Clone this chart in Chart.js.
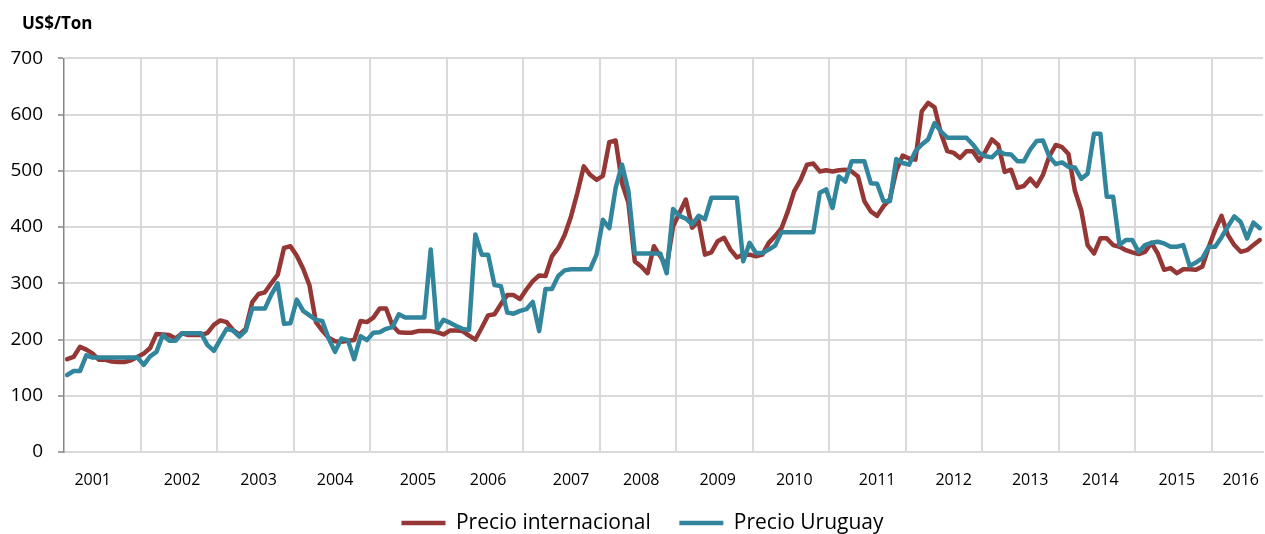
<!DOCTYPE html>
<html>
<head>
<meta charset="utf-8">
<title>Precio internacional vs Precio Uruguay</title>
<script src="https://cdn.jsdelivr.net/npm/chart.js@4.4.1/dist/chart.umd.min.js"></script>
<style>
  html, body { margin: 0; padding: 0; background: #fff; }
  #wrap { width: 1265px; height: 534px; }
</style>
</head>
<body>
<div id="wrap"><canvas id="chart" width="1265" height="534"></canvas></div>
<script>
// monthly prices, US$/Ton, Jan 2001 - Aug 2016
const precioInternacional = [
  165, 169, 187, 182, 175, 164, 164, 161, 160, 160, 163, 169, // 2001
  175, 185, 210, 209, 208, 202, 211, 208, 208, 208, 212, 226, // 2002
  234, 231, 217, 209, 219, 266, 281, 284, 300, 315, 363, 366, // 2003
  349, 326, 296, 231, 216, 203, 197, 196, 198, 199, 233, 231, // 2004
  239, 255, 255, 225, 213, 212, 212, 215, 215, 215, 213, 209, // 2005
  216, 216, 215, 207, 200, 221, 243, 245, 263, 279, 279, 272, // 2006
  289, 304, 314, 313, 348, 363, 386, 419, 461, 508, 493, 484, // 2007
  491, 551, 554, 478, 443, 339, 330, 318, 366, 348, 330, 401, // 2008
  425, 449, 399, 411, 351, 355, 375, 381, 360, 346, 351, 351, // 2009
  348, 351, 372, 384, 398, 428, 464, 484, 511, 513, 499, 501, // 2010
  499, 501, 502, 499, 490, 446, 428, 420, 437, 450, 500, 527, // 2011
  522, 520, 606, 621, 613, 567, 535, 532, 523, 535, 535, 518, // 2012
  535, 556, 546, 498, 502, 470, 473, 486, 473, 493, 526, 546, // 2013
  542, 530, 465, 430, 368, 353, 380, 380, 368, 365, 359, 355, // 2014
  352, 356, 372, 353, 324, 327, 318, 325, 325, 324, 330, 365, // 2015
  395, 420, 386, 368, 356, 359, 368, 377                      // 2016
];

const precioUruguay = [
  137, 144, 144, 172, 168, 168, 168, 168, 168, 168, 168, 168, // 2001
  155, 170, 178, 208, 198, 198, 211, 211, 211, 211, 190, 180, // 2002
  200, 219, 216, 205, 216, 255, 255, 255, 280, 300, 228, 229, // 2003
  271, 251, 243, 235, 233, 202, 178, 202, 199, 165, 206, 199, // 2004
  212, 213, 219, 222, 245, 239, 239, 239, 239, 360, 218, 235, // 2005
  230, 224, 219, 217, 387, 351, 351, 297, 295, 248, 246, 251, // 2006
  254, 267, 215, 290, 290, 313, 323, 325, 325, 325, 325, 351, // 2007
  413, 398, 470, 511, 464, 353, 353, 353, 353, 353, 318, 432, // 2008
  420, 415, 405, 420, 414, 452, 452, 452, 452, 452, 339, 372, // 2009
  354, 354, 360, 367, 391, 391, 391, 391, 391, 391, 461, 467, // 2010
  434, 490, 481, 517, 517, 517, 478, 477, 446, 446, 521, 514, // 2011
  511, 535, 547, 556, 585, 570, 559, 559, 559, 559, 547, 532, // 2012
  526, 524, 535, 530, 529, 517, 517, 538, 553, 554, 525, 512, // 2013
  515, 507, 506, 486, 495, 566, 566, 454, 454, 368, 377, 377, // 2014
  356, 368, 372, 374, 371, 365, 365, 368, 331, 337, 345, 365, // 2015
  365, 382, 401, 419, 409, 380, 408, 398                      // 2016
];

const years = [2001, 2002, 2003, 2004, 2005, 2006, 2007, 2008,
               2009, 2010, 2011, 2012, 2013, 2014, 2015, 2016];
const monthNames = ['Ene', 'Feb', 'Mar', 'Abr', 'May', 'Jun', 'Jul', 'Ago', 'Sep', 'Oct', 'Nov', 'Dic'];
// month index under which each year label sits
const yearTickIndex = [4, 18, 30, 42, 55, 66, 79, 90, 102, 114, 127, 139, 151, 162, 174, 184];
const yTicks = [0, 100, 200, 300, 400, 500, 600, 700];

const months = [];
years.forEach(y => monthNames.forEach(m => {
  if (months.length < precioInternacional.length) months.push(m + ' ' + y);
}));

const FONT = "'Open Sans', 'Noto Sans', sans-serif";
const RED = '#953735';
const BLUE = '#31859c';
const GRID = '#d9d9d9';
const AXIS = '#868686';

// legend box height is set by hand so the items sit below the year labels
const legendHeight = {
  id: 'legendHeight',
  beforeInit(chart) {
    const legend = chart.legend;
    if (!legend || legend._fitPatched) return;
    const fit = legend.fit;
    legend.fit = function () { fit.call(this); this.height = 50; };
    legend._fitPatched = true;
  }
};

new Chart(document.getElementById('chart'), {
  type: 'line',
  data: {
    labels: months,
    datasets: [
      { label: 'Precio internacional', data: precioInternacional, borderColor: RED, backgroundColor: RED,
        borderWidth: 4.5, pointRadius: 0, pointStyle: 'line', tension: 0, order: 1,
        borderCapStyle: 'round', borderJoinStyle: 'round' },
      { label: 'Precio Uruguay', data: precioUruguay, borderColor: BLUE, backgroundColor: BLUE,
        borderWidth: 4.5, pointRadius: 0, pointStyle: 'line', tension: 0, order: 0,
        borderCapStyle: 'round', borderJoinStyle: 'round' }
    ]
  },
  options: {
    responsive: false,
    animation: false,
    events: [],
    layout: { padding: { left: 22, right: 2, top: 0, bottom: 0 } },
    scales: {
      x: {
        offset: true,
        grid: {
          offset: true,
          drawTicks: false,
          lineWidth: 2,
          color: c => (c.index > 0 && c.index % 12 === 0) ? GRID : 'rgba(0,0,0,0)'
        },
        border: { color: GRID, width: 2 },
        ticks: {
          autoSkip: false,
          maxRotation: 0,
          minRotation: 0,
          padding: 19,
          color: '#000',
          font: { family: FONT, size: 16 },
          callback: (v, i) => {
            const k = yearTickIndex.indexOf(i);
            return k >= 0 ? String(years[k]) : '';
          }
        },
        afterFit: s => {
          s.height = 32;
          s.paddingLeft = 0;
          s.paddingRight = 0;
          s._computeLabelArea = () => null;
        }
      },
      y: {
        min: 0,
        max: 700,
        afterBuildTicks: s => { s.ticks = yTicks.map(v => ({ value: v })); },
        grid: { color: GRID, lineWidth: 2, tickLength: 6, tickColor: AXIS, tickWidth: 1.5 },
        border: { color: AXIS, width: 1.5 },
        ticks: { padding: 15, color: '#000', font: { family: FONT, size: 19 } },
        afterFit: s => {
          s.width = 42;
          s._computeLabelArea = () => null;
        }
      }
    },
    plugins: {
      title: {
        display: true,
        text: 'US$/Ton',
        align: 'start',
        color: '#000',
        font: { family: FONT, size: 17, weight: 'bold' },
        padding: { top: 14, bottom: 24 }
      },
      legend: {
        position: 'bottom',
        labels: {
          usePointStyle: true,
          pointStyle: 'line',
          pointStyleWidth: 44,
          padding: 28.5,
          color: '#000',
          font: { family: FONT, size: 21 },
          sort: (a, b) => a.datasetIndex - b.datasetIndex
        }
      },
      tooltip: { enabled: false }
    }
  },
  plugins: [legendHeight]
});
</script>
</body>
</html>
